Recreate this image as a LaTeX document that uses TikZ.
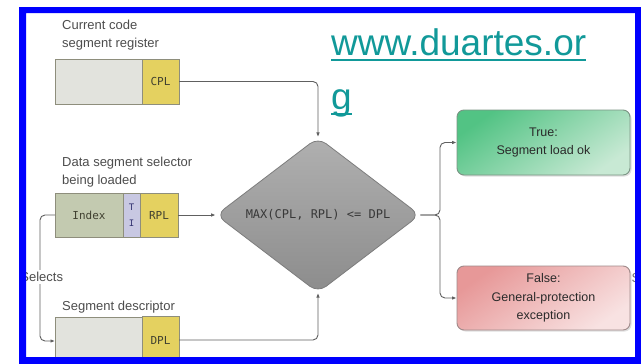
\documentclass[tikz,border=0pt]{standalone}
\usepackage{fontspec}
\setmainfont{Liberation Sans}
\newfontfamily\monofont{DejaVu Sans Mono}
\usetikzlibrary{shapes.geometric,arrows.meta,shadows,calc}

\definecolor{frameblue}{RGB}{0,0,255}
\definecolor{urlteal}{RGB}{17,153,153}
\definecolor{labelgray}{HTML}{4D4D4D}
\definecolor{bodygray}{HTML}{E2E3DD}
\definecolor{regborder}{HTML}{8E8E7C}
\definecolor{plyellow}{HTML}{E4D160}
\definecolor{indexgreen}{HTML}{C3CAB0}
\definecolor{tilav}{HTML}{C8C8E2}
\definecolor{fieldtext}{HTML}{404030}
\definecolor{diatop}{HTML}{B0B0B0}
\definecolor{diabot}{HTML}{8C8C8C}
\definecolor{diaborder}{HTML}{7D7D7D}
\definecolor{conncolor}{HTML}{606060}
\definecolor{oktop}{HTML}{52C384}
\definecolor{okbot}{HTML}{C8E9D4}
\definecolor{okborder}{HTML}{7B9484}
\definecolor{failtop}{HTML}{E79898}
\definecolor{failbot}{HTML}{F8E2E2}
\definecolor{failborder}{HTML}{A08A8A}
\definecolor{restext}{HTML}{2A2A2A}

\begin{document}
\begin{tikzpicture}[x=1pt,y=-1pt,
  lbl/.style={font=\fontsize{13}{18}\selectfont, text=labelgray, align=left,
    inner sep=0pt, anchor=base west},
  field/.style={draw=regborder, line width=0.8pt, inner sep=0pt, outer sep=0pt,
    minimum height=45, font=\monofont\fontsize{11}{13}\selectfont, text=fieldtext},
  decision/.style={diamond, draw=diaborder, line width=0.8pt, top color=diatop,
    bottom color=diabot, rounded corners=10pt, inner sep=0pt,
    minimum width=204, minimum height=144,
    font=\monofont\fontsize{12}{14}\selectfont, text=black!78},
  result/.style={rounded corners=7pt, line width=0.9pt, align=center,
    minimum width=173, inner sep=0pt,
    font=\fontsize{12.5}{18.5}\selectfont, text=restext,
    drop shadow={opacity=0.25, shadow xshift=1.5pt, shadow yshift=-1.5pt}},
  conn/.style={draw=conncolor, line width=0.9pt, rounded corners=5pt},
  arr/.style={-{Latex[length=4.5pt,width=3.6pt]}},
  urltext/.style={font=\fontsize{37}{44}\selectfont, text=urlteal, inner sep=0pt,
    anchor=base west},
  urlline/.style={draw=urlteal, line width=2.6pt}]

\useasboundingbox (0,0) rectangle (641,364);
\fill[white] (0,0) rectangle (641,364);

% register captions (anchored at the baseline of their last line)
\node[lbl] (cslabel) at (62,47) {Current code\\segment register};
\node[lbl] (sellabel) at (62,184) {Data segment selector\\being loaded};
\node[lbl] (desclabel) at (62,310) {Segment descriptor};

% current code segment register
\node[field, fill=bodygray, minimum width=87] (csbody) at (98.5,81.5) {};
\node[field, fill=plyellow, minimum width=37] (cpl) at (160.5,81.5) {CPL};

% data segment selector
\node[field, fill=indexgreen, minimum width=68, minimum height=44] (index) at (89,215) {Index};
\node[field, fill=tilav, minimum width=17, minimum height=44, align=center,
  font=\monofont\fontsize{9}{16}\selectfont, text=black!60!blue!60!gray] (ti) at (131.5,215) {T\\I};
\node[field, fill=plyellow, minimum width=38, minimum height=44] (rpl) at (159,215) {RPL};

% segment descriptor
\node[field, fill=bodygray, minimum width=87, minimum height=48] (descbody) at (98.5,341) {};
\node[field, fill=plyellow, minimum width=37, minimum height=48] (dpl) at (160.5,340) {DPL};

% privilege check
\node[decision] (check) at (318,215) {MAX(CPL, RPL) <= DPL};

% outcomes
\node[result, draw=okborder, top color=oktop, bottom color=okbot, shading angle=35,
  minimum height=65] (ok) at (543.5,142.5) {True:\\Segment load ok};
\node[result, draw=failborder, top color=failtop, bottom color=failbot, shading angle=35,
  minimum height=64] (fail) at (543.5,298) {False:\\General-protection\\exception};

% connectors
\draw[conn,arr] (cpl.east) -| (check.north);
\draw[conn,arr] (rpl.east) -- (check.west);
\draw[conn,arr] (dpl.east) -| (check.south);
\draw[conn,arr] (index.west) -- ++(-15,0) |- (descbody.west);
\node[lbl, anchor=center, fill=white, inner sep=2pt] (selects) at (41.7,277) {Selects};

\coordinate (fork) at (440,215);
\draw[conn,arr] (check.east) -- (fork) |- (ok.west);
\draw[conn,arr] (check.east) -- (fork) |- (fail.west);

% partly hidden letter at the right edge
\node[lbl, anchor=center, text=black!55] (edge) at (636,278) {S};

% link text
\node[urltext] (url1) at (331,56) {www.duartes.or};
\node[urltext] (url2) at (331,109) {g};
\draw[urlline] ([yshift=-4pt]url1.base west) -- ([yshift=-4pt]url1.base east);
\draw[urlline] ([yshift=-5pt]url2.base west) -- ([yshift=-5pt]url2.base east);

% blue frame
\fill[frameblue, even odd rule] (19,7) rectangle (641,364) (26,13) rectangle (635,357);
\end{tikzpicture}
\end{document}
